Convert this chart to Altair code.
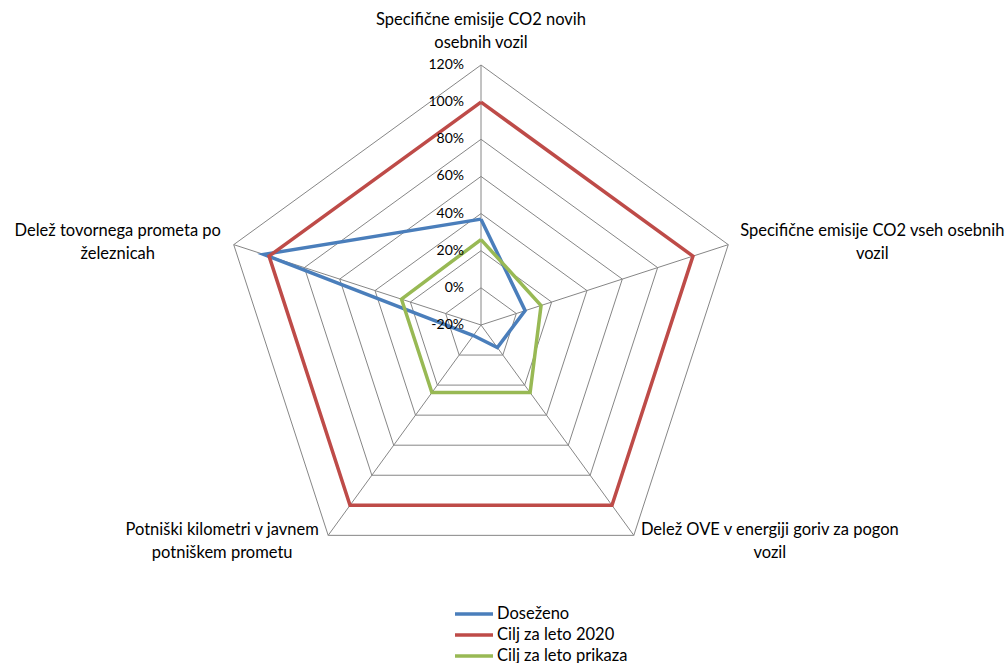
import altair as alt
import pandas as pd

# --- chart values -----------------------------------------------------------
categories = [
    ["Specifične emisije CO2 novih", "osebnih vozil"],
    ["Specifične emisije CO2 vseh osebnih", "vozil"],
    ["Delež OVE v energiji goriv za pogon", "vozil"],
    ["Potniški kilometri v javnem", "potniškem prometu"],
    ["Delež tovornega prometa po", "železnicah"],
]
series_names = ["Doseženo", "Cilj za leto 2020", "Cilj za leto prikaza"]
dosezeno = [37, 5, -5, -13, 103]
cilj_2020 = [100, 100, 100, 100, 100]
cilj_prikaza = [26, 14, 25, 25, 25]
ring_levels = [-20, 0, 20, 40, 60, 80, 100, 120]
ring_labels = ["-20%", "0%", "20%", "40%", "60%", "80%", "100%", "120%"]
series_colors = ["#4A7EBB", "#BE4B48", "#98B954"]

# --- geometry of the radar --------------------------------------------------
W, H = 1008, 663
CX, CY = 481, 325          # centre of the radar in pixels
R_PX = 260                 # pixel radius of the outermost ring
R_MIN, R_MAX = ring_levels[0], ring_levels[-1]
K = R_PX / (R_MAX - R_MIN)  # pixels per percentage point
x_dom = [-CX / K, (W - CX) / K]
y_dom = [-(H - CY) / K, CY / K]
n = len(categories)
FONT = "Lato"
TEXT_SIZE = 16.5
TICK_SIZE = 14

xs = alt.Scale(domain=x_dom, nice=False, zero=False)
ys = alt.Scale(domain=y_dom, nice=False, zero=False)
color_scale = alt.Scale(domain=series_names, range=series_colors)


def X(f):
    return alt.X(f, type="quantitative", scale=xs, axis=None)


def Y(f):
    return alt.Y(f, type="quantitative", scale=ys, axis=None)


def polar_xy(chart):
    """Turn (idx, value) rows into cartesian px/py for the radar."""
    return chart.transform_calculate(
        ang=f"datum.idx * 2 * PI / {n}"
    ).transform_calculate(
        r=f"datum.value - ({R_MIN})"
    ).transform_calculate(
        px="datum.r * sin(datum.ang)",
        py="datum.r * cos(datum.ang)",
    )


# series table (closed polygons: first axis repeated at the end)
series_rows = []
for name, vals in zip(series_names, [dosezeno, cilj_2020, cilj_prikaza]):
    for i in range(n + 1):
        series_rows.append({"series": name, "idx": i, "value": vals[i % n]})
series_df = pd.DataFrame(series_rows)

ring_rows = []
for lev in ring_levels[1:]:
    for i in range(n + 1):
        ring_rows.append({"level": lev, "idx": i, "value": lev})
ring_df = pd.DataFrame(ring_rows)

spoke_df = pd.DataFrame({"idx": list(range(n)), "value": [R_MAX] * n})
tick_df = pd.DataFrame({"idx": [0] * len(ring_levels), "value": ring_levels, "label": ring_labels})

grid_color = "#868686"

rings = polar_xy(alt.Chart(ring_df)).mark_line(
    color=grid_color, strokeWidth=1, strokeJoin="miter"
).encode(x=X("px"), y=Y("py"), detail="level:N", order="idx:Q")

spokes = polar_xy(alt.Chart(spoke_df)).transform_calculate(
    zx="0", zy="0"
).mark_rule(color=grid_color, strokeWidth=1).encode(
    x=X("zx"), y=Y("zy"), x2="px:Q", y2="py:Q"
)

ticks = polar_xy(alt.Chart(tick_df)).mark_text(
    align="right", baseline="middle", dx=-17, font=FONT, fontSize=TICK_SIZE, color="#000000"
).encode(x=X("px"), y=Y("py"), text="label:N")

lines = polar_xy(alt.Chart(series_df)).mark_line(
    strokeWidth=3.5, strokeJoin="miter"
).encode(
    x=X("px"),
    y=Y("py"),
    order="idx:Q",
    color=alt.Color("series:N", scale=color_scale, legend=None),
)

# category labels, offset from the outer vertex of each axis (first line centre)
label_offsets = [(0, -45), (144, -14), (136, -5), (-106, -5), (-116, -14)]
cat_layers = []
for i, (lines_txt, (ox, oy)) in enumerate(zip(categories, label_offsets)):
    df = pd.DataFrame({"idx": [i], "value": [R_MAX], "label": [lines_txt]})
    cat_layers.append(
        polar_xy(alt.Chart(df)).mark_text(
            align="center", baseline="middle", dx=ox, dy=oy,
            font=FONT, fontSize=TEXT_SIZE, lineHeight=23, color="#000000",
        ).encode(x=X("px"), y=Y("py"), text="label")
    )

# legend below the radar: a short line sample and the series name per row
LEG_X0, LEG_X1, LEG_Y0, LEG_STEP = 455, 493, 614, 21
legend_df = pd.DataFrame({"series": series_names, "row": list(range(len(series_names)))})
legend_base = alt.Chart(legend_df).transform_calculate(
    lx0=f"({LEG_X0} - {CX}) / {K}",
    lx1=f"({LEG_X1} - {CX}) / {K}",
    ly=f"({CY} - ({LEG_Y0} + {LEG_STEP} * datum.row)) / {K}",
)
legend_lines = legend_base.mark_rule(strokeWidth=3.5).encode(
    x=X("lx0"), x2="lx1:Q", y=Y("ly"),
    color=alt.Color("series:N", scale=color_scale, legend=None),
)
legend_text = legend_base.mark_text(
    align="left", baseline="middle", dx=4, font=FONT, fontSize=TEXT_SIZE, color="#000000"
).encode(x=X("lx1"), y=Y("ly"), text="series:N")

chart = alt.layer(
    rings, spokes, lines, ticks, *cat_layers, legend_lines, legend_text
).properties(
    width=W, height=H, padding=0, background="white",
    autosize=alt.AutoSizeParams(type="none"),
).configure_view(stroke=None)

chart.save("out.html", embed_options={"renderer": "svg", "actions": False})
